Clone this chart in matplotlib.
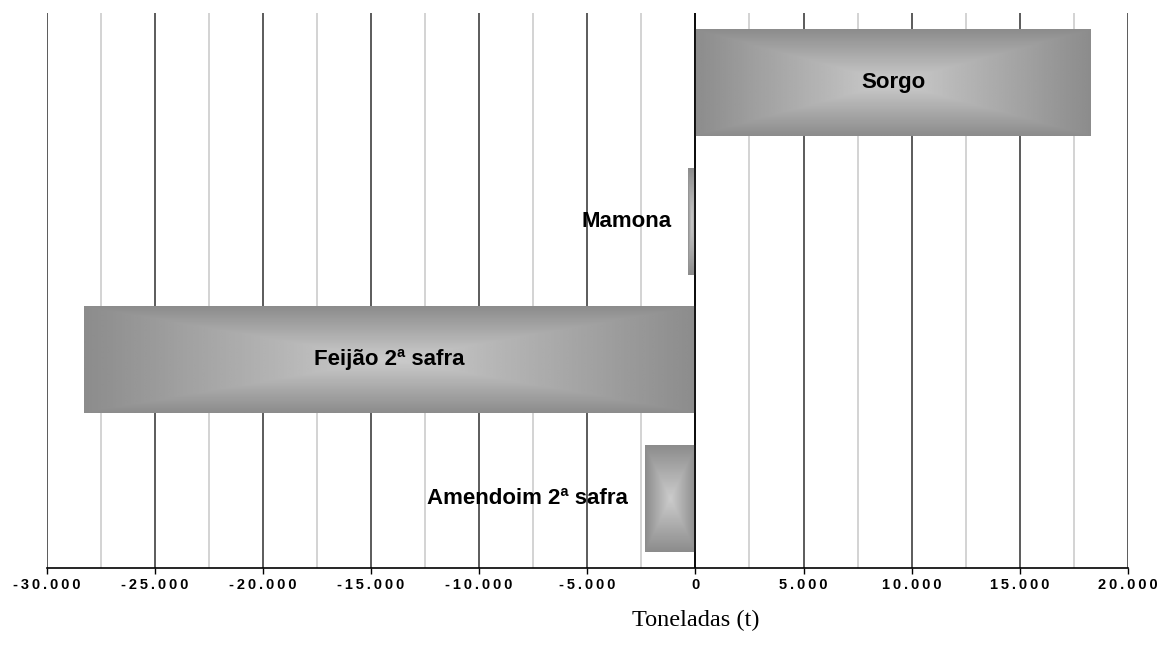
import matplotlib.pyplot as plt
import numpy as np
from matplotlib.ticker import FuncFormatter, MultipleLocator

# dados (toneladas)
culturas = ["Amendoim 2ª safra", "Feijão 2ª safra", "Mamona", "Sorgo"]
valores = [-2330, -28270, -340, 18270]
# rótulo dentro da barra (True) ou à esquerda (False)
dentro = [False, True, False, True]

fig = plt.figure(figsize=(11.58, 6.53), dpi=100)
ax = fig.add_axes([0.0402, 0.130, 0.9339, 0.850])

ax.set_xlim(-30000, 20000)
ax.set_ylim(-0.5, 3.5)

# gradiente "retangular a partir do centro" para as barras
nx, ny = 200, 100
u = np.linspace(-1, 1, nx)
v = np.linspace(-1, 1, ny)
U, V = np.meshgrid(u, v)
t = np.maximum(np.abs(U), np.abs(V))
claro, escuro = 0.80, 0.55
img = claro + (escuro - claro) * t

altura = 0.77
for i, val in enumerate(valores):
    x0, x1 = min(0, val), max(0, val)
    ax.imshow(img, cmap="gray", vmin=0, vmax=1, aspect="auto",
              extent=(x0, x1, i - altura / 2, i + altura / 2),
              interpolation="bilinear", zorder=2)
    if dentro[i]:
        ax.text((x0 + x1) / 2, i, culturas[i], ha="center", va="center",
                fontsize=16, fontweight="bold", family="Liberation Sans", zorder=4)
    else:
        ax.annotate(culturas[i], xy=(x0, i), xytext=(-12, 0),
                    textcoords="offset points", ha="right", va="center",
                    fontsize=16, fontweight="bold", family="Liberation Sans", zorder=4)

ax.set_xlim(-30000, 20000)
ax.set_ylim(-0.5, 3.5)

# grade
ax.xaxis.set_major_locator(MultipleLocator(5000))
ax.xaxis.set_minor_locator(MultipleLocator(2500))
ax.grid(True, which="major", axis="x", color="#404040", lw=1.2, zorder=0)
ax.grid(True, which="minor", axis="x", color="#cccccc", lw=1.2, zorder=0)
ax.set_axisbelow(True)
ax.axvline(0, color="black", lw=1.2, zorder=3)


def fmt(x, pos):
    s = f"{int(round(x)):,}".replace(",", ".")
    return "\u2009".join(s)


ax.xaxis.set_major_formatter(FuncFormatter(fmt))
ax.tick_params(axis="x", which="major", direction="out", length=4, width=1,
               color="black", pad=3)
ax.tick_params(axis="x", which="minor", length=0)
for lab in ax.get_xticklabels():
    lab.set_fontfamily(["Liberation Sans", "DejaVu Sans"])
    lab.set_fontweight("bold")
    lab.set_fontsize(10.5)

ax.set_yticks([])
for s in ["left", "top", "right"]:
    ax.spines[s].set_visible(False)
ax.spines["bottom"].set_color("black")
ax.spines["bottom"].set_linewidth(1.2)

ax.text(0.6, -0.094, "Toneladas (t)", transform=ax.transAxes,
        ha="center", va="center", family="Liberation Serif", fontsize=17.5)

fig.savefig("out.png", dpi=100)
